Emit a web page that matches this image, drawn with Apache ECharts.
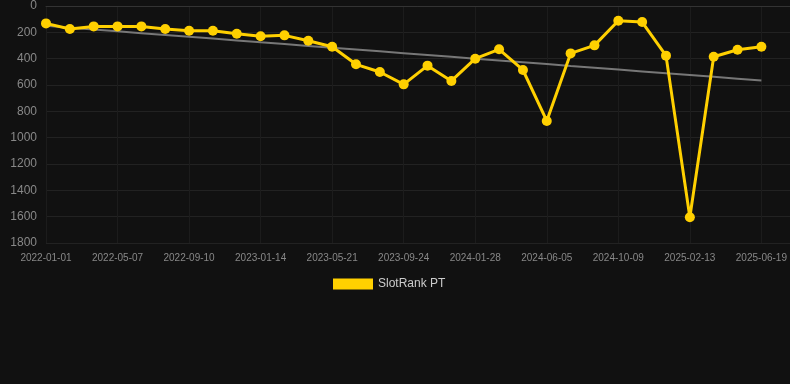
<!DOCTYPE html>
<html><head><meta charset="utf-8">
<script src="https://cdn.jsdelivr.net/npm/echarts@6/dist/echarts.min.js"></script>
<style>html,body{margin:0;padding:0;background:#111111;}#c{width:790px;height:384px;}</style>
</head><body><div id="c"></div>
<script>
const dates = ['2022-01-01','2022-02-12','2022-03-26','2022-05-07','2022-06-18','2022-07-30','2022-09-10','2022-10-22','2022-12-03','2023-01-14','2023-02-25','2023-04-08','2023-05-21','2023-07-02','2023-08-13','2023-09-24','2023-11-05','2023-12-17','2024-01-28','2024-03-10','2024-04-23','2024-06-05','2024-07-17','2024-08-28','2024-10-09','2024-11-20','2025-01-01','2025-02-13','2025-03-27','2025-05-08','2025-06-19'];
const rankPT = [132,175,155,155,155,175,188,188,211,230,223,264,309,443,501,595,453,569,400,329,486,873,360,299,112,122,377,1604,385,332,309];
const yTicks = [0,200,400,600,800,1000,1200,1400,1600,1800];
const seriesName = 'SlotRank PT';

// linear regression trend line derived from data
const n = rankPT.length;
let sx=0, sy=0, sxy=0, sxx=0;
rankPT.forEach((v,i)=>{sx+=i;sy+=v;sxy+=i*v;sxx+=i*i;});
const slope = (n*sxy - sx*sy)/(n*sxx - sx*sx);
const icpt = (sy - slope*sx)/n;
const mainData = rankPT.map((v,i)=>[i,v]);
const trendData = rankPT.map((v,i)=>[i,+(icpt+slope*i).toFixed(1)]);

const chart = echarts.init(document.getElementById('c'), null, {renderer:'canvas'});
chart.setOption({
  backgroundColor:'#111111',
  animation:false,
  grid:{left:46,right:0,top:6,bottom:141},
  legend:{
    data:[seriesName], left:328, top:273, itemWidth:40, itemHeight:11, itemGap:10,
    icon:'rect', textStyle:{color:'#cccccc',fontSize:12,fontFamily:'Liberation Sans, Arial, sans-serif'}
  },
  xAxis:{
    type:'value', min:0, max:31.2, interval:3,
    axisLine:{show:true,lineStyle:{color:'#333333'}},
    axisTick:{show:false},
    axisLabel:{color:'#888888',fontSize:10,margin:10,showMaxLabel:false,
      fontFamily:'Liberation Sans, Arial, sans-serif',
      formatter:function(v){return dates[v]||'';}},
    splitLine:{show:true,lineStyle:{color:'#1c1c1c',width:1}}
  },
  yAxis:{
    type:'value', inverse:true, min:yTicks[0], max:yTicks[yTicks.length-1], interval:200,
    axisLine:{show:false}, axisTick:{show:false},
    axisLabel:{color:'#888888',fontSize:12,margin:9,fontFamily:'Liberation Sans, Arial, sans-serif',
      formatter:function(v){return String(v);}},
    splitLine:{show:true,lineStyle:{color:'#222222',width:1}}
  },
  series:[
    {
      name:'trend', type:'line', data:trendData, symbol:'none', silent:true,
      lineStyle:{color:'#777777',width:2}, z:1
    },
    {
      name:seriesName, type:'line', data:mainData, symbol:'circle', symbolSize:10,
      itemStyle:{color:'#ffd000'}, lineStyle:{color:'#ffd000',width:3}, z:3
    }
  ]
});
</script></body></html>
